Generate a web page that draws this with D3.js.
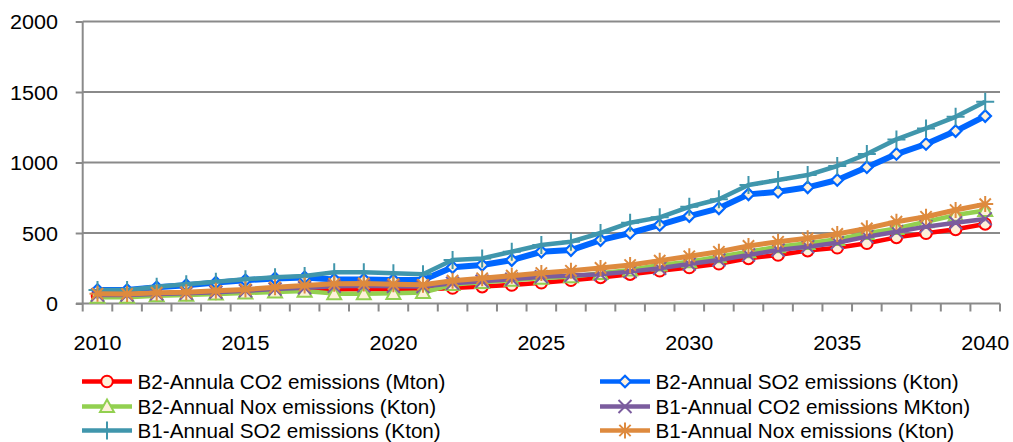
<!DOCTYPE html>
<html><head><meta charset="utf-8">
<script src="https://cdn.jsdelivr.net/npm/d3@7"></script>
<style>
html,body{margin:0;padding:0;background:#fff;}
svg text{font-family:"Liberation Sans",Arial,sans-serif;fill:#000;}
</style></head>
<body><svg id="c" width="1013" height="442"></svg>
<script>
const years = d3.range(2010, 2041);
const xTickLabels = ["2010","2015","2020","2025","2030","2035","2040"];
const yTicks = [0, 500, 1000, 1500, 2000];

const seriesNames = [
  "B2-Annula CO2 emissions (Mton)",
  "B2-Annual SO2 emissions (Kton)",
  "B2-Annual Nox emissions (Kton)",
  "B1-Annual CO2 emissions MKton)",
  "B1-Annual SO2 emissions (Kton)",
  "B1-Annual Nox emissions (Kton)"
];
const b2CO2 = [55,55,62,65,72,80,88,95,100,103,100,100,110,120,131,147,165,185,208,232,255,282,320,344,375,395,427,469,498,526,564];
const b2SO2 = [96,96,115,130,148,165,178,185,170,170,167,167,257,273,308,367,379,450,500,557,620,675,774,793,824,876,966,1060,1131,1223,1329];
const b2NOx = [45,45,55,60,68,75,82,88,70,70,72,78,135,150,165,180,190,214,238,273,296,332,367,403,427,455,498,533,580,627,660];
const b1CO2 = [60,60,68,72,80,90,102,112,122,125,122,120,143,158,172,190,198,207,226,250,280,308,344,379,403,431,474,509,545,573,600];
const b1SO2 = [96,96,119,136,155,172,186,195,222,222,214,207,308,320,367,415,438,500,573,611,686,739,840,876,911,975,1060,1164,1242,1324,1431];
const b1NOx = [70,68,77,80,90,100,115,128,140,142,137,133,162,179,197,216,232,252,273,304,335,367,408,438,462,493,533,580,615,663,705];

const seriesValues = [b2CO2, b2SO2, b2NOx, b1CO2, b1SO2, b1NOx];
const colors = ["#FF0000", "#0066FF", "#92D050", "#7B5C9E", "#4096AC", "#DE8A3E"];
const widths = [4.5, 6, 4.5, 4.5, 4.5, 5];
const markers = ["circle", "diamond", "triangle", "x", "plus", "star"];
const cream = "#FDF0DA";

const svg = d3.select("#c");
const x = d3.scaleBand().domain(years).range([82.7, 1000]).padding(0);
const y = d3.scaleLinear().domain([0, 2000]).range([303.5, 21.5]);
const cx = d => x(d) + x.bandwidth() / 2;
const gridColor = "#8A8A8A";
const FS = 21;

// measure horizontal scale factors
const probe = svg.append("text").attr("font-size", FS).text(seriesNames[0]);
const kLegend = 308 / probe.node().getComputedTextLength();
probe.remove();
const probe2 = svg.append("text").attr("font-size", FS).text("2010");
const kNum = 48 / probe2.node().getComputedTextLength();
probe2.remove();

function addText(parent, tx, ty, str, anchor, k) {
  const g = parent.append("g").attr("transform", `translate(${tx},${ty}) scale(${k},1)`);
  g.append("text").attr("x", 0).attr("y", 0).attr("dy", "0.36em")
    .attr("text-anchor", anchor).attr("font-size", FS).text(str);
  return g;
}

// gridlines
svg.append("g").selectAll("line").data(yTicks.filter(v => v > 0)).join("line")
  .attr("x1", 82.7).attr("x2", 1000).attr("y1", d => y(d)).attr("y2", d => y(d))
  .attr("stroke", gridColor).attr("stroke-width", 2);

// y axis
const yAxis = svg.append("g").attr("transform", "translate(82.7,0)")
  .call(d3.axisLeft(y).tickValues(yTicks).tickSize(7).tickFormat(""));
yAxis.select(".domain").attr("stroke", gridColor).attr("stroke-width", 2).attr("d", `M0,${y(2000)}V${y(0)}`);
yAxis.selectAll(".tick line").attr("stroke", gridColor).attr("stroke-width", 2);
yTicks.forEach(v => addText(svg, 58, y(v), String(v), "end", kNum));

// x axis
const xAxisG = svg.append("g").attr("transform", `translate(0,${y(0)})`);
xAxisG.append("line").attr("x1", 76).attr("x2", 1000).attr("stroke", gridColor).attr("stroke-width", 2);
const boundaries = years.map(d => x(d)).concat([x(years[years.length - 1]) + x.bandwidth()]);
xAxisG.selectAll("line.tk").data(boundaries).join("line").attr("class", "tk")
  .attr("x1", d => d).attr("x2", d => d).attr("y1", 0).attr("y2", 8)
  .attr("stroke", gridColor).attr("stroke-width", 2);
xTickLabels.forEach(t => addText(xAxisG, cx(+t), 39, t, "middle", kNum));

function drawMarker(g, type, color) {
  if (type === "circle") {
    g.append("circle").attr("r", 5.8).attr("fill", cream).attr("stroke", color).attr("stroke-width", 2);
  } else if (type === "diamond") {
    g.append("path").attr("d", d3.symbol(d3.symbolDiamond2, 85)()).attr("fill", cream).attr("stroke", color).attr("stroke-width", 2.2);
  } else if (type === "triangle") {
    const h = 7;
    g.append("path").attr("d", `M0,${-h}L${h},${h * 0.8}L${-h},${h * 0.8}Z`).attr("fill", cream).attr("stroke", color).attr("stroke-width", 2);
  } else if (type === "x") {
    const h = 6.5;
    g.append("path").attr("d", `M${-h},${-h}L${h},${h}M${-h},${h}L${h},${-h}`).attr("stroke", color).attr("stroke-width", 2);
  } else if (type === "plus") {
    const h = 9;
    g.append("path").attr("d", `M0,${-h}V${h}M${-h},0H${h}`).attr("stroke", color).attr("stroke-width", 2);
  } else if (type === "star") {
    const h = 8;
    const a = h * 0.7071;
    g.append("path").attr("d", `M0,${-h}V${h}M${-h},0H${h}M${-a},${-a}L${a},${a}M${-a},${a}L${a},${-a}`).attr("stroke", color).attr("stroke-width", 2);
  }
}

const line = d3.line().x((d, i) => cx(years[i])).y(d => y(d));
seriesValues.forEach((vals, si) => {
  const g = svg.append("g");
  g.append("path").datum(vals).attr("d", line).attr("fill", "none")
    .attr("stroke", colors[si]).attr("stroke-width", widths[si]).attr("stroke-linejoin", "round");
  vals.forEach((v, i) => {
    const mg = g.append("g").attr("transform", `translate(${cx(years[i])},${y(v)})`);
    drawMarker(mg, markers[si], colors[si]);
  });
});

// legend
const legendPos = [[82, 381.5], [600, 381.5], [82, 406.5], [600, 406.5], [82, 430.5], [600, 430.5]];
seriesNames.forEach((name, si) => {
  const [lx, ly] = legendPos[si];
  const g = svg.append("g").attr("transform", `translate(${lx},${ly})`);
  g.append("line").attr("x1", 0).attr("x2", 50).attr("y1", 0).attr("y2", 0)
    .attr("stroke", colors[si]).attr("stroke-width", 4.5);
  const mg = g.append("g").attr("transform", "translate(25,0)");
  drawMarker(mg, markers[si], colors[si]);
  addText(g, 55.5, 0, name, "start", kLegend);
});
</script></body></html>
